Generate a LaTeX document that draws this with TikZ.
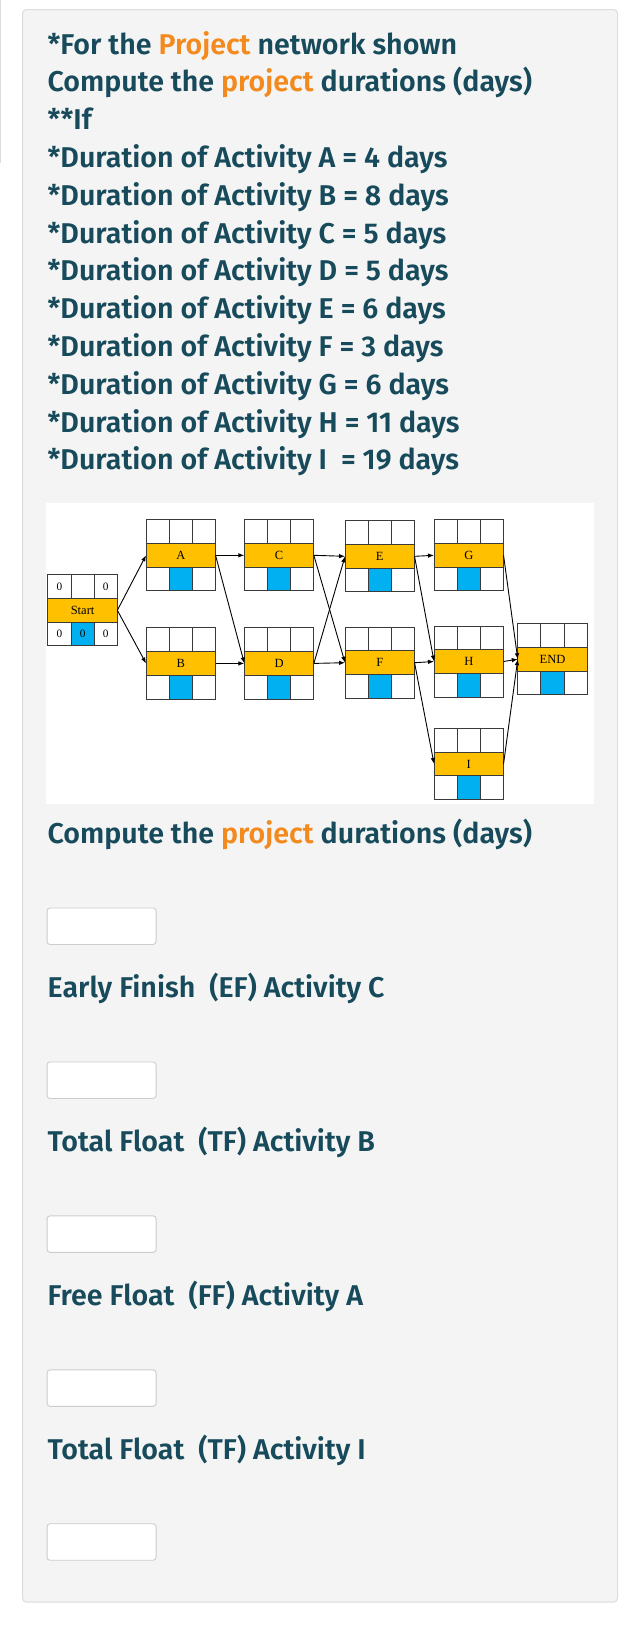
\documentclass[tikz,border=0pt]{standalone}
\usepackage{fontspec}
\setmainfont{Fira Sans}
\newfontfamily\qfont{Fira Sans}[UprightFont={* SemiBold}]
\newfontfamily\lblfont{Liberation Serif}
\usetikzlibrary{arrows.meta}
\definecolor{teal}{HTML}{174A5B}
\definecolor{orng}{HTML}{F28A1E}
\definecolor{panelfill}{HTML}{F4F4F4}
\definecolor{panelline}{HTML}{DCDCDC}
\definecolor{inline}{HTML}{CCCCCC}
\definecolor{boxline}{HTML}{3A3A3A}
\definecolor{cpmorange}{HTML}{FFC000}
\definecolor{cpmblue}{HTML}{00B0F0}
\tikzset{
  qtext/.style={anchor=base west, inner sep=0pt, text=teal, font=\qfont\fontsize{28.6}{34}\selectfont},
  cell/.style={draw=boxline, fill=white, minimum width=23.17pt, minimum height=23.7pt, inner sep=0pt, outer sep=0pt, line width=0.9pt, font=\lblfont\fontsize{11.3}{12}\selectfont},
  bluecell/.style={cell, fill=cpmblue},
  midrow/.style={draw=boxline, fill=cpmorange, minimum width=69.5pt, minimum height=23.7pt, inner sep=0pt, outer sep=0pt, line width=0.9pt, font=\lblfont\fontsize{12.5}{13}\selectfont},
  link/.style={-{Latex[length=6pt,width=4.5pt]}, line width=0.9pt, black},
  inbox/.style={draw=inline, fill=white, rounded corners=3pt, line width=0.9pt, minimum width=109pt, minimum height=36.5pt, anchor=north west, inner sep=0pt},
}
\newcommand\actbox[9]{%
  \node[midrow] (#1) at (#2) {#3};
  \node[cell, anchor=south west] (#1tl) at (#1.north west) {#4};
  \node[cell, anchor=south] (#1tm) at (#1.north) {#5};
  \node[cell, anchor=south east] (#1tr) at (#1.north east) {#6};
  \node[cell, anchor=north west] (#1bl) at (#1.south west) {#7};
  \node[bluecell, anchor=north] (#1bm) at (#1.south) {#8};
  \node[cell, anchor=north east] (#1br) at (#1.south east) {#9};
}
\begin{document}
\begin{tikzpicture}[x=1pt,y=-1pt]
\useasboundingbox (0,0) rectangle (635,1626);
\fill[white] (0,0) rectangle (635,1626);
\draw[draw=panelline, line width=1.2pt] (0.8,0) -- (0.8,163);
\draw[draw=panelline, fill=panelfill, rounded corners=4pt, line width=1pt] (22.5,9.5) rectangle (617.5,1602);
% question text
\node[qtext] (l1) at (47.5,54) {*For the {\color{orng}Project} network shown};
\node[qtext] (l2) at (47.5,91.8) {Compute the {\color{orng}project} durations (days)};
\node[qtext] (l3) at (47.5,129.6) {**If};
\node[qtext] (l4) at (47.5,167.4) {*Duration of Activity A = 4 days};
\node[qtext] (l5) at (47.5,205.2) {*Duration of Activity B = 8 days};
\node[qtext] (l6) at (47.5,243.0) {*Duration of Activity C = 5 days};
\node[qtext] (l7) at (47.5,280.8) {*Duration of Activity D = 5 days};
\node[qtext] (l8) at (47.5,318.6) {*Duration of Activity E = 6 days};
\node[qtext] (l9) at (47.5,356.4) {*Duration of Activity F = 3 days};
\node[qtext] (l10) at (47.5,394.2) {*Duration of Activity G = 6 days};
\node[qtext] (l11) at (47.5,432.0) {*Duration of Activity H = 11 days};
\node[qtext] (l12) at (47.5,469.8) {*Duration of Activity I\ \ = 19 days};
% network
\fill[white] (46,503) rectangle (594,804);
\actbox{Start}{82.6,610.3}{Start}{0}{}{0}{0}{0}{0}
\actbox{A}{180.8,555.3}{A}{}{}{}{}{}{}
\actbox{B}{180.8,663.4}{B}{}{}{}{}{}{}
\actbox{C}{279.1,555.3}{C}{}{}{}{}{}{}
\actbox{D}{279.1,663.4}{D}{}{}{}{}{}{}
\actbox{E}{379.8,556.3}{E}{}{}{}{}{}{}
\actbox{F}{379.8,662.7}{F}{}{}{}{}{}{}
\actbox{G}{468.8,555.3}{G}{}{}{}{}{}{}
\actbox{H}{468.8,661.5}{H}{}{}{}{}{}{}
\actbox{I}{468.8,763.9}{I}{}{}{}{}{}{}
\actbox{END}{552.5,659.2}{END}{}{}{}{}{}{}
\draw[link] (Start.east) -- (A.west);
\draw[link] (Start.east) -- (B.west);
\draw[link] (A.east) -- (C.west);
\draw[link] (A.east) -- (D.west);
\draw[link] (B.east) -- (D.west);
\draw[link] (C.east) -- (E.west);
\draw[link] (C.east) -- (F.west);
\draw[link] (D.east) -- (E.west);
\draw[link] (D.east) -- (F.west);
\draw[link] (E.east) -- (G.west);
\draw[link] (E.east) -- (H.west);
\draw[link] (F.east) -- (H.west);
\draw[link] (F.east) -- (I.west);
\draw[link] (G.east) -- (END.west);
\draw[link] (H.east) -- (END.west);
\draw[link] (I.east) -- (END.west);
% answers
\node[qtext] (q0) at (47.5,843) {Compute the {\color{orng}project} durations (days)};
\node[inbox] (in1) at (46.6,907.5) {};
\node[qtext] (q1) at (47.5,997) {Early Finish\ \ (EF) Activity C};
\node[inbox] (in2) at (46.6,1061.5) {};
\node[qtext] (q2) at (47.5,1151) {Total Float\ \ (TF) Activity B};
\node[inbox] (in3) at (46.6,1215.4) {};
\node[qtext] (q3) at (47.5,1305) {Free Float\ \ (FF) Activity A};
\node[inbox] (in4) at (46.6,1369.4) {};
\node[qtext] (q4) at (47.5,1459) {Total Float\ \ (TF) Activity I};
\node[inbox] (in5) at (46.6,1523.3) {};
\end{tikzpicture}
\end{document}
